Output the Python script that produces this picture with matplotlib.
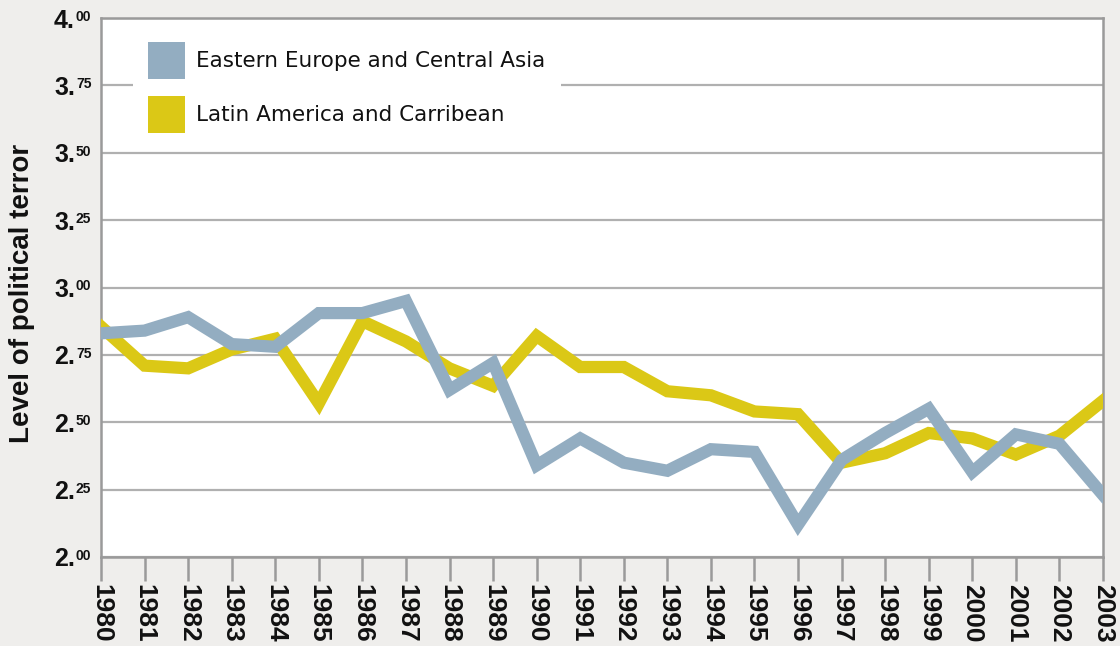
import matplotlib
matplotlib.use("Agg")
import matplotlib.pyplot as plt
from matplotlib.patches import Patch

years = list(range(1980, 2004))
eastern_europe = [2.83, 2.84, 2.89, 2.79, 2.78, 2.905, 2.905, 2.95, 2.62, 2.72,
                  2.34, 2.44, 2.35, 2.32, 2.40, 2.39, 2.12, 2.36, 2.46, 2.55,
                  2.315, 2.455, 2.42, 2.23]
latin_america = [2.855, 2.71, 2.70, 2.77, 2.81, 2.57, 2.875, 2.80, 2.70, 2.635,
                 2.82, 2.705, 2.705, 2.615, 2.60, 2.54, 2.53, 2.35, 2.385, 2.46,
                 2.44, 2.38, 2.45, 2.58]
series_names = ["Eastern Europe and Central Asia", "Latin America and Carribean"]
y_ticks = [2.00, 2.25, 2.50, 2.75, 3.00, 3.25, 3.50, 3.75, 4.00]

BLUE = "#93adc1"
YELLOW = "#dbc816"
GRID = "#b0b0b0"
SPINE = "#9a9a9a"
BG = "#efeeec"

fig = plt.figure(figsize=(11.2, 6.46), dpi=100, facecolor=BG)
ax = fig.add_axes([101/1120, 1-557/646, 1002/1120, 539/646])
ax.set_facecolor("white")

ax.plot(years, latin_america, color=YELLOW, lw=8.8, solid_joinstyle="miter", zorder=3)
ax.plot(years, eastern_europe, color=BLUE, lw=8.8, solid_joinstyle="miter", zorder=4)

ax.set_xlim(1980, 2003)
ax.set_ylim(2.0, 4.0)
ax.set_yticks(y_ticks)
ax.set_yticklabels([])
ax.tick_params(axis="y", length=0)
ax.yaxis.grid(True, color=GRID, lw=1.6, zorder=1)
ax.set_axisbelow(True)

ax.set_xticks(years)
ax.set_xticklabels([str(y) for y in years], rotation=-90, fontsize=19,
                   fontweight="bold", family="Liberation Sans", color="#111111")
ax.tick_params(axis="x", length=17, width=1.8, color=SPINE, pad=2.5)
for s in ax.spines.values():
    s.set_color(SPINE)
    s.set_linewidth(1.8)

ytr = ax.get_yaxis_transform()
for v in y_ticks:
    whole, frac = f"{v:.2f}".split(".")
    ax.annotate(whole + ".", xy=(0, v), xycoords=ytr, xytext=(-26, -2.5),
                textcoords="offset pixels", ha="right", va="center",
                fontsize=18, fontweight="bold", family="Liberation Sans",
                color="#111111", annotation_clip=False)
    ax.annotate(frac, xy=(0, v), xycoords=ytr, xytext=(-25, 8),
                textcoords="offset pixels", ha="left", va="top",
                fontsize=10, fontweight="bold", family="Liberation Sans",
                color="#111111", annotation_clip=False)

fig.text(22/1120, 1-293/646, "Level of political terror", rotation=90,
         ha="center", va="center", fontsize=20, fontweight="bold",
         family="Liberation Sans", color="#111111")

handles = [Patch(facecolor=BLUE, edgecolor="none", lw=0),
           Patch(facecolor=YELLOW, edgecolor="none", lw=0)]
leg = ax.legend(handles, series_names, loc="upper left",
                bbox_to_anchor=((132.5-101)/1002, (557-26.5)/539),
                borderaxespad=0, frameon=True, fancybox=False,
                prop={"family": "DejaVu Sans", "size": 15.5},
                handlelength=1.72, handleheight=2.27, handletextpad=0.51,
                labelspacing=0.79, borderpad=0.72)
leg.get_frame().set_facecolor("white")
leg.get_frame().set_edgecolor("none")
leg.get_frame().set_alpha(1)
leg.set_zorder(5)
for t in leg.get_texts():
    t.set_color("#111111")

fig.savefig("out.png", dpi=100, facecolor=BG)
